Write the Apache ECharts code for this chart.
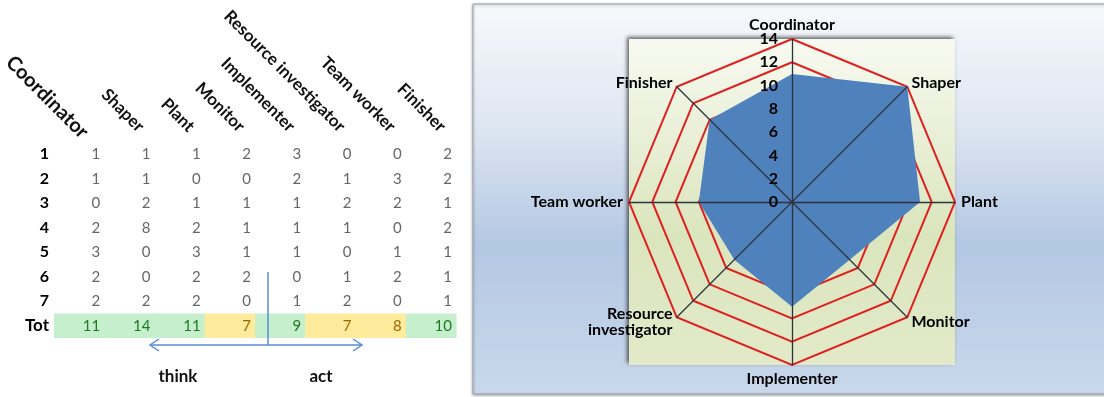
<!DOCTYPE html>
<html>
<head>
<meta charset="utf-8">
<script src="https://cdn.jsdelivr.net/npm/echarts@6/dist/echarts.min.js"></script>
<style>
  html, body { margin: 0; padding: 0; background: #fff; }
  #root { width: 1104px; height: 397px; }
</style>
</head>
<body>
<div id="root"></div>
<script>
// roles (columns of the table, axes of the radar)
var roles = ['Coordinator', 'Shaper', 'Plant', 'Monitor', 'Implementer', 'Resource investigator', 'Team worker', 'Finisher'];
// row labels
var rowNames = ['1', '2', '3', '4', '5', '6', '7', 'Tot'];
// answers per row
var row1 = [1, 1, 1, 2, 3, 0, 0, 2];
var row2 = [1, 1, 0, 0, 2, 1, 3, 2];
var row3 = [0, 2, 1, 1, 1, 2, 2, 1];
var row4 = [2, 8, 2, 1, 1, 1, 0, 2];
var row5 = [3, 0, 3, 1, 1, 0, 1, 1];
var row6 = [2, 0, 2, 2, 0, 1, 2, 1];
var row7 = [2, 2, 2, 0, 1, 2, 0, 1];
// totals (also the radar values)
var totals = [11, 14, 11, 7, 9, 7, 8, 10];
// radar scale
var radarMax = 14;
var radarSplit = 7;

// radar geometry
var cx = 792, cy = 202, R = 163;
var FONT = 'Lato, "Open Sans", sans-serif';

var rows = [row1, row2, row3, row4, row5, row6, row7];
var cellData = [];
for (var r = 0; r < rows.length; r++) {
    for (var c = 0; c < roles.length; c++) {
        cellData.push([c, r, rows[r][c]]);
    }
}
var totData = [];
for (var i = 0; i < totals.length; i++) {
    totData.push([i, rowNames.length - 1, totals[i]]);
}

// radar draws counter-clockwise, so walk the roles backwards from Coordinator
var order = [0, 7, 6, 5, 4, 3, 2, 1];
var indicators = order.map(function (k) {
    var n = roles[k];
    return { name: n === 'Resource investigator' ? 'Resource\ninvestigator' : n, max: radarMax };
});
var radarValues = order.map(function (k) { return totals[k]; });

var xData = roles.map(function (n, i) {
    return i === 0 ? { value: n, textStyle: { fontSize: 20 } } : n;
});

var myChart = echarts.init(document.getElementById('root'));

var option = {
    animation: false,
    textStyle: { fontFamily: FONT },
    graphic: [
        // right panel
        {
            type: 'rect', z: -20, silent: true,
            shape: { x: 473, y: 4, width: 640, height: 390 },
            style: {
                fill: new echarts.graphic.LinearGradient(0, 0, 0, 1, [
                    { offset: 0, color: '#f7f9fc' },
                    { offset: 0.3, color: '#dfe7f2' },
                    { offset: 0.62, color: '#b3c8e3' },
                    { offset: 1, color: '#c9d8eb' }
                ]),
                stroke: '#9aa3ad', lineWidth: 1,
                shadowBlur: 3, shadowColor: 'rgba(0,0,0,0.35)', shadowOffsetY: 1
            }
        },
        // plot area
        {
            type: 'rect', z: -19, silent: true,
            shape: { x: cx - R, y: cy - R, width: 2 * R, height: 2 * R },
            style: {
                fill: new echarts.graphic.LinearGradient(0, 0, 0, 1, [
                    { offset: 0, color: '#f8faf1' },
                    { offset: 0.6, color: '#dbe5bd' },
                    { offset: 1, color: '#e2eac9' }
                ]),
                shadowBlur: 4, shadowColor: 'rgba(0,0,0,0.6)', shadowOffsetX: -2, shadowOffsetY: -2
            }
        },
        // think / act arrows
        {
            type: 'polyline', z: 10, silent: true,
            shape: { points: [[150, 345], [362, 345]] },
            style: { stroke: '#5b8dd4', lineWidth: 1.5, fill: null }
        },
        {
            type: 'polyline', z: 10, silent: true,
            shape: { points: [[159, 339], [150, 345], [159, 351]] },
            style: { stroke: '#5b8dd4', lineWidth: 1.5, fill: null }
        },
        {
            type: 'polyline', z: 10, silent: true,
            shape: { points: [[353, 339], [362, 345], [353, 351]] },
            style: { stroke: '#5b8dd4', lineWidth: 1.5, fill: null }
        },
        {
            type: 'polyline', z: 10, silent: true,
            shape: { points: [[268, 272], [268, 345]] },
            style: { stroke: '#5b8dd4', lineWidth: 1.5, fill: null }
        },
        {
            type: 'text', z: 10, silent: true, x: 178, y: 377,
            style: { text: 'think', font: 'bold 17px ' + FONT, fill: '#111', align: 'center', verticalAlign: 'middle' }
        },
        {
            type: 'text', z: 10, silent: true, x: 321, y: 377,
            style: { text: 'act', font: 'bold 17px ' + FONT, fill: '#111', align: 'center', verticalAlign: 'middle' }
        }
    ],
    grid: [
        // table cells
        { left: 54, top: 142, width: 402, height: 196, outerBoundsMode: 'none' },
        // header labels sit a little right of the cell centres
        { left: 60, top: 142, width: 402, height: 196, outerBoundsMode: 'none' }
    ],
    xAxis: [
        {
            type: 'category', gridIndex: 0, position: 'top', data: roles,
            axisLine: { show: false }, axisTick: { show: false }, splitLine: { show: false },
            axisLabel: { show: false }
        },
        {
            type: 'category', gridIndex: 1, position: 'top', data: xData,
            axisLine: { show: false }, axisTick: { show: false }, splitLine: { show: false },
            axisLabel: {
                interval: 0, rotate: 45, margin: 7, verticalAlign: 'bottom',
                fontSize: 17, fontWeight: 'bold', color: '#111', fontFamily: FONT
            }
        }
    ],
    yAxis: [
        {
            type: 'category', gridIndex: 0, inverse: true, data: rowNames,
            axisLine: { show: false }, axisTick: { show: false }, splitLine: { show: false },
            axisLabel: {
                margin: 5, fontSize: 16, fontWeight: 'bold', color: '#000', fontFamily: FONT,
                formatter: function (v) { return v === 'Tot' ? '{t|Tot}' : v; },
                rich: { t: { fontSize: 17, fontWeight: 'bold', color: '#000', fontFamily: FONT } }
            }
        },
        { type: 'category', gridIndex: 1, data: rowNames, show: false }
    ],
    radar: [
        {
            center: [cx, cy], radius: R, startAngle: 90, shape: 'polygon',
            splitNumber: radarSplit, indicator: indicators, z: 1,
            axisName: { color: '#000', fontSize: 16, fontWeight: 'bold', fontFamily: FONT },
            nameGap: 6,
            axisLine: { show: false },
            splitLine: { lineStyle: { color: '#de2020', width: 2 } },
            splitArea: { show: false }
        },
        {
            center: [cx, cy], radius: R, startAngle: 90, shape: 'polygon',
            splitNumber: radarSplit, indicator: indicators, z: 5,
            axisName: { show: false },
            axisLine: { lineStyle: { color: '#2b333b', width: 1.3 } },
            splitLine: { show: false },
            splitArea: { show: false }
        },
        {
            center: [cx, cy], radius: R, startAngle: 90, shape: 'polygon',
            splitNumber: radarSplit, indicator: [{ name: '', max: radarMax }], z: 6,
            axisName: { show: false },
            axisLine: { show: false },
            splitLine: { show: false },
            splitArea: { show: false },
            axisLabel: { show: true, margin: 14, fontSize: 16, fontWeight: 'bold', color: '#000', fontFamily: FONT }
        }
    ],
    series: [
        {
            type: 'scatter', xAxisIndex: 0, yAxisIndex: 0, data: cellData,
            symbolSize: 0, silent: true,
            label: {
                show: true, position: 'inside', align: 'right', offset: [21, 0],
                fontSize: 15, color: '#404040', fontFamily: FONT,
                formatter: function (p) { return p.value[2]; }
            }
        },
        {
            type: 'custom', xAxisIndex: 0, yAxisIndex: 0, data: totData, silent: true,
            renderItem: function (params, api) {
                var p = api.coord([api.value(0), api.value(1)]);
                var s = api.size([1, 1]);
                var v = api.value(2);
                var good = v >= 9;
                return {
                    type: 'group',
                    children: [
                        {
                            type: 'rect',
                            shape: { x: p[0] - s[0] / 2, y: p[1] - s[1] / 2, width: s[0] + 0.5, height: s[1] },
                            style: { fill: good ? '#c6efce' : '#ffeb9c' }
                        },
                        {
                            type: 'text', x: p[0] + s[0] / 2 - 4, y: p[1],
                            style: {
                                text: String(v), align: 'right', verticalAlign: 'middle',
                                font: '15px ' + FONT, fill: good ? '#1e7a1e' : '#9c6500'
                            }
                        }
                    ]
                };
            }
        },
        {
            type: 'radar', radarIndex: 0, z: 2, symbol: 'none', silent: true,
            data: [{ value: radarValues, name: 'Tot' }],
            lineStyle: { width: 0 },
            areaStyle: { color: '#4f81bd', opacity: 1 }
        }
    ]
};
myChart.setOption(option);
</script>
</body>
</html>
